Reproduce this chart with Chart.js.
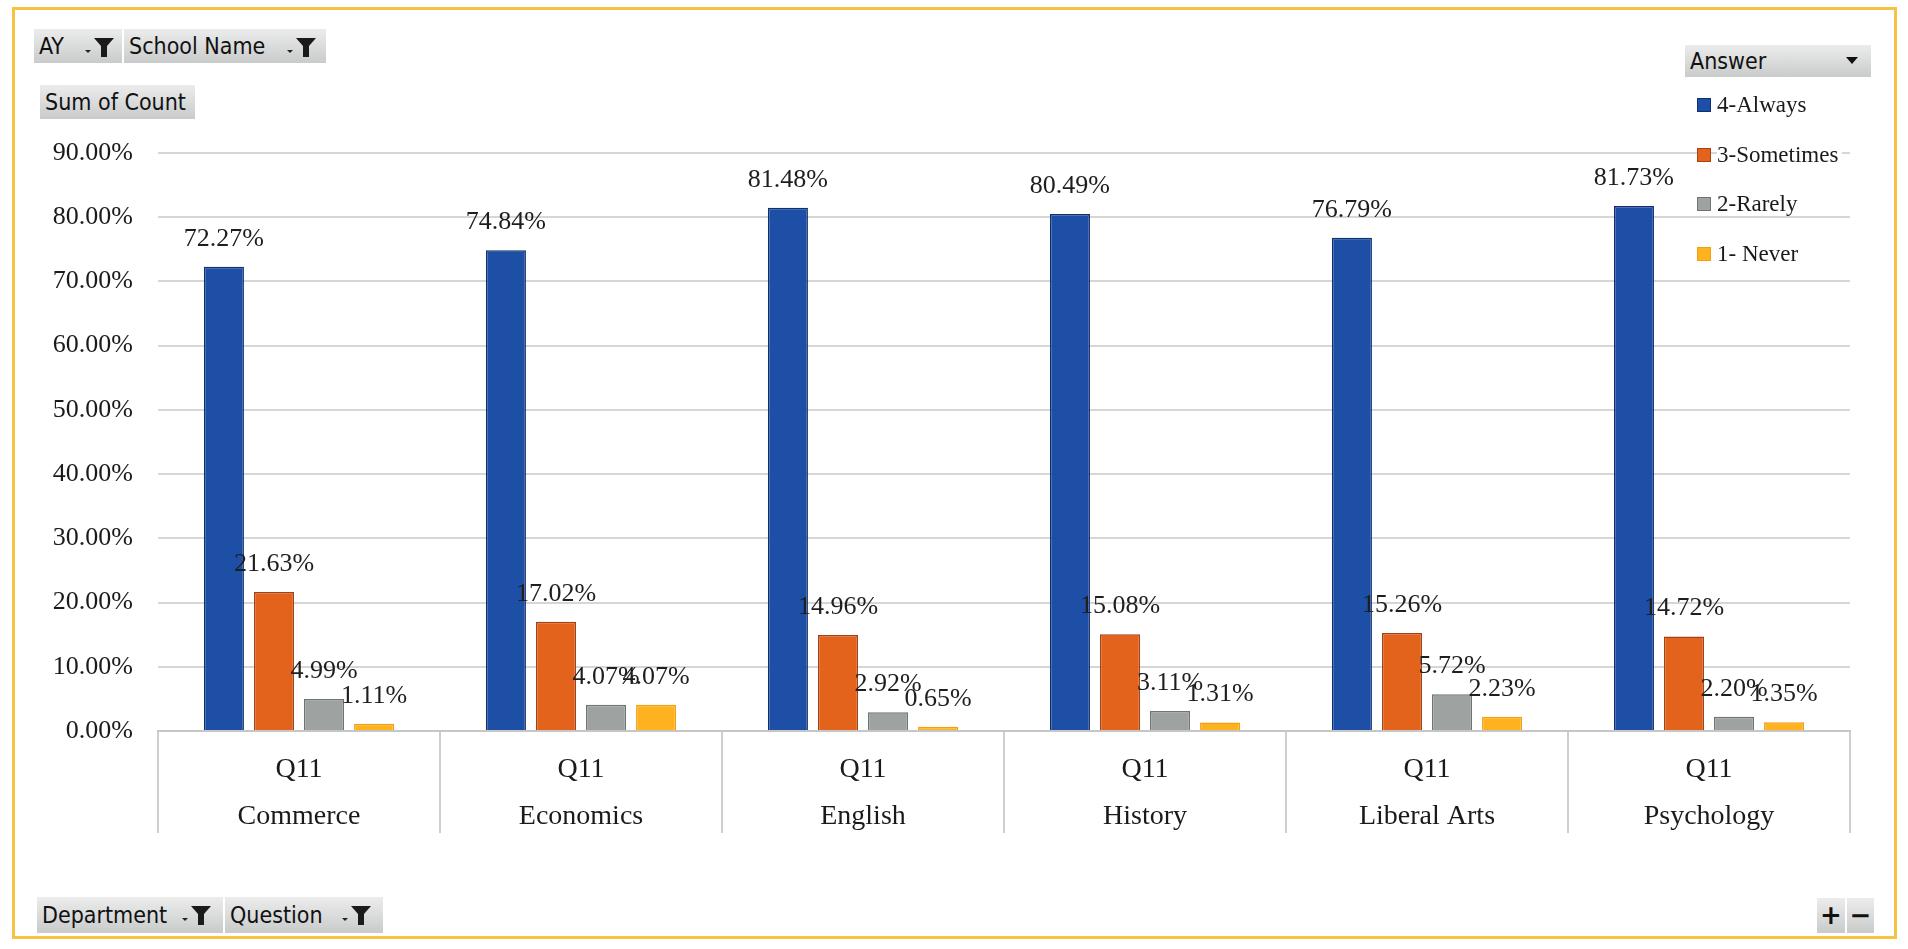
<!DOCTYPE html>
<html>
<head>
<meta charset="utf-8">
<script src="https://cdn.jsdelivr.net/npm/chart.js@4.4.1/dist/chart.umd.min.js"></script>
<style>
  body { margin: 0; background: #fff; }
  #wrap { position: relative; width: 1908px; height: 949px; overflow: hidden; }
  #frame { position: absolute; left: 12px; top: 7px; width: 1885px; height: 932px; border: 3px solid #f5c242; box-sizing: border-box; }
  canvas { position: absolute; left: 0; top: 0; }
  .btn {
    position: absolute; height: 34px; box-sizing: border-box;
    background: linear-gradient(#ececec, #c9cbcb);
    font-family: "Liberation Sans Narrow", "DejaVu Sans Condensed", sans-serif;
    font-size: 23px; color: #111; line-height: 34px; padding-left: 5px;
    white-space: nowrap;
  }
  .btn svg { position: absolute; top: 7px; }
  #legend { position: absolute; left: 1690px; top: 88px; font-family: "Liberation Serif", serif; font-size: 23px; color: #1a1a1a; }
  #legend div { position: relative; height: 49.5px; padding-left: 27px; line-height: 34px; }
  #legend label { background: #fff; padding-right: 4px; }
  #legend span { position: absolute; left: 7px; top: 10px; width: 14px; height: 14px; box-sizing: border-box; border: 1px solid; }
</style>
</head>
<body>
<div id="wrap">
  <canvas id="chart" width="1908" height="949"></canvas>
  <div id="frame"></div>

  <div class="btn" style="left:34px;top:29px;width:88px;">AY
    <svg style="left:48px" width="34" height="22" viewBox="0 0 34 22"><path d="M3 14 L9 14 L6 17 Z" fill="#222"/><path d="M12 2 L32 2 L25 10 L25 21 L19 21 L19 10 Z" fill="#1a1a1a"/></svg>
  </div>
  <div class="btn" style="left:124px;top:29px;width:202px;">School Name
    <svg style="left:160px" width="34" height="22" viewBox="0 0 34 22"><path d="M3 14 L9 14 L6 17 Z" fill="#222"/><path d="M12 2 L32 2 L25 10 L25 21 L19 21 L19 10 Z" fill="#1a1a1a"/></svg>
  </div>
  <div class="btn" style="left:40px;top:85px;width:155px;">Sum of Count</div>
  <div class="btn" style="left:1685px;top:45px;width:186px;height:32px;line-height:32px;">Answer
    <svg style="left:160px;top:11px" width="14" height="10" viewBox="0 0 14 10"><path d="M1 1 L13 1 L7 8 Z" fill="#111"/></svg>
  </div>
  <div class="btn" style="left:37px;top:897px;width:186px;height:36px;line-height:36px;">Department
    <svg style="left:142px" width="34" height="22" viewBox="0 0 34 22"><path d="M3 14 L9 14 L6 17 Z" fill="#222"/><path d="M12 2 L32 2 L25 10 L25 21 L19 21 L19 10 Z" fill="#1a1a1a"/></svg>
  </div>
  <div class="btn" style="left:225px;top:897px;width:158px;height:36px;line-height:36px;">Question
    <svg style="left:114px" width="34" height="22" viewBox="0 0 34 22"><path d="M3 14 L9 14 L6 17 Z" fill="#222"/><path d="M12 2 L32 2 L25 10 L25 21 L19 21 L19 10 Z" fill="#1a1a1a"/></svg>
  </div>
  <div class="btn" style="left:1817px;top:898px;width:28px;height:35px;padding:0;text-align:center;font-family:'DejaVu Sans',sans-serif;font-weight:bold;font-size:26px;">+</div>
  <div class="btn" style="left:1847px;top:898px;width:27px;height:35px;padding:0;text-align:center;font-family:'DejaVu Sans',sans-serif;font-weight:bold;font-size:26px;">&minus;</div>

  <div id="legend"></div>
</div>

<script>
  // categorias (pregunta + departamento)
  const questions = ['Q11', 'Q11', 'Q11', 'Q11', 'Q11', 'Q11'];
  const departments = ['Commerce', 'Economics', 'English', 'History', 'Liberal Arts', 'Psychology'];

  // porcentajes por respuesta
  const always = [72.27, 74.84, 81.48, 80.49, 76.79, 81.73];
  const sometimes = [21.63, 17.02, 14.96, 15.08, 15.26, 14.72];
  const rarely = [4.99, 4.07, 2.92, 3.11, 5.72, 2.20];
  const never = [1.11, 4.07, 0.65, 1.31, 2.23, 1.35];

  const seriesNames = ['4-Always', '3-Sometimes', '2-Rarely', '1- Never'];
  const yTicks = [0, 10, 20, 30, 40, 50, 60, 70, 80, 90];

  const fills = ['#1d4fa6', '#e3621c', '#9ea3a1', '#ffb21f'];
  const borders = ['#0e2f70', '#a9400f', '#6f7572', '#f0a010'];

  const serif = '"Liberation Serif", "Times New Roman", serif';

  // etiquetas encima de cada barra
  const barLabels = {
    id: 'barLabels',
    afterDatasetsDraw(chart) {
      const ctx = chart.ctx;
      ctx.save();
      ctx.font = '26px ' + serif;
      ctx.fillStyle = '#1e1e1e';
      ctx.textAlign = 'center';
      ctx.textBaseline = 'middle';
      chart.data.datasets.forEach((ds, i) => {
        chart.getDatasetMeta(i).data.forEach((bar, j) => {
          ctx.fillText(ds.data[j].toFixed(2) + '%', bar.x, bar.y - 28);
        });
      });
      ctx.restore();
    }
  };

  const allSeries = [always, sometimes, rarely, never];

  const chart = new Chart(document.getElementById('chart'), {
    type: 'bar',
    data: {
      labels: departments.map((d, i) => [questions[i], d]),
      datasets: allSeries.map((s, i) => ({
        label: seriesNames[i],
        data: s,
        backgroundColor: fills[i],
        borderColor: borders[i],
        borderWidth: 1.5,
        categoryPercentage: 0.71,
        barPercentage: 0.8
      }))
    },
    options: {
      responsive: false,
      animation: false,
      layout: { padding: { left: 40, right: 58, top: 153, bottom: 116 } },
      plugins: { legend: { display: false }, tooltip: { enabled: false } },
      scales: {
        x: {
          afterFit: s => { s.height = 102; },
          border: { display: true, color: '#c6c6c6', width: 2 },
          grid: { offset: true, drawOnChartArea: false, tickLength: 102, color: '#cfcfcf', lineWidth: 2 },
          ticks: { padding: -87, color: '#1a1a1a', font: { family: serif, size: 28, lineHeight: 1.68 } }
        },
        y: {
          min: 0,
          max: 90,
          afterFit: s => { s.width = 118; },
          afterBuildTicks: s => { s.ticks = yTicks.map(v => ({ value: v })); },
          border: { display: false },
          grid: { color: '#d6d6d6', lineWidth: 2, drawTicks: false },
          ticks: {
            padding: 25,
            color: '#1a1a1a',
            font: { family: serif, size: 26 },
            callback: v => v.toFixed(2) + '%'
          }
        }
      }
    },
    plugins: [barLabels]
  });

  // leyenda a la derecha
  const legend = document.getElementById('legend');
  chart.data.datasets.forEach(ds => {
    const row = document.createElement('div');
    row.innerHTML = `<span style="background:${ds.backgroundColor};border-color:${ds.borderColor}"></span><label>${ds.label}</label>`;
    legend.appendChild(row);
  });
</script>
</body>
</html>
